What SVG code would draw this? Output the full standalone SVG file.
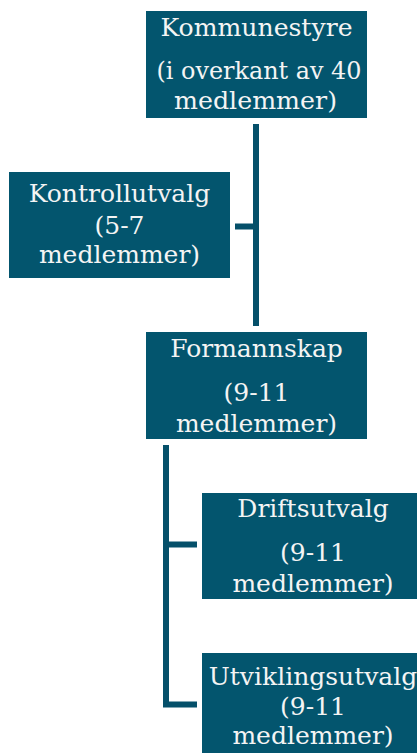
<svg xmlns="http://www.w3.org/2000/svg" width="417" height="753" viewBox="0 0 417 753">
<style>
.box{fill:#03556E}
.t{font-family:"DejaVu Serif","Liberation Serif",serif;font-size:25px;fill:#F4F4F4;text-anchor:middle}
.c{fill:none;stroke:#05506A;stroke-width:6;stroke-linejoin:miter}
</style>
<rect width="417" height="753" fill="#FFFFFF"/>
<g id="connectors">
<path class="c" d="M256 124 V326"/>
<path class="c" d="M235 226.5 H256"/>
<path class="c" d="M166 445 V704.5 H197"/>
<path class="c" d="M166 544.5 H197"/>
</g>
<g id="kommunestyre">
<rect class="box" x="146" y="11" width="221" height="107"/>
<text class="t" x="256.5" y="36" textLength="192" lengthAdjust="spacingAndGlyphs">Kommunestyre</text>
<text class="t" x="259" y="79" textLength="205" lengthAdjust="spacingAndGlyphs">(i overkant av 40</text>
<text class="t" x="255.5" y="109" textLength="163" lengthAdjust="spacingAndGlyphs">medlemmer)</text>
</g>
<g id="kontrollutvalg">
<rect class="box" x="9" y="172" width="221" height="106"/>
<text class="t" x="119.5" y="202">Kontrollutvalg</text>
<text class="t" x="119.5" y="234">(5-7</text>
<text class="t" x="119.5" y="263">medlemmer)</text>
</g>
<g id="formannskap">
<rect class="box" x="146" y="332" width="221" height="107"/>
<text class="t" x="256.5" y="357">Formannskap</text>
<text class="t" x="256.5" y="401">(9-11</text>
<text class="t" x="256.5" y="432">medlemmer)</text>
</g>
<g id="driftsutvalg">
<rect class="box" x="202" y="493" width="222" height="106"/>
<text class="t" x="313" y="517">Driftsutvalg</text>
<text class="t" x="313" y="561">(9-11</text>
<text class="t" x="313" y="592">medlemmer)</text>
</g>
<g id="utviklingsutvalg">
<rect class="box" x="202" y="653" width="222" height="106"/>
<text class="t" x="313" y="685">Utviklingsutvalg</text>
<text class="t" x="313" y="715">(9-11</text>
<text class="t" x="313" y="744">medlemmer)</text>
</g>
</svg>
